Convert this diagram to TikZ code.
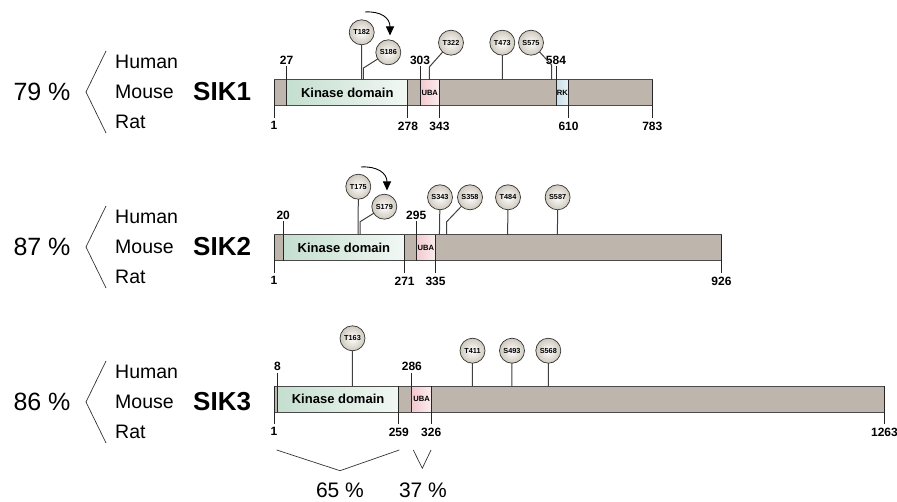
\documentclass[tikz,border=0pt]{standalone}
\usepackage{fontspec}
\setmainfont{Liberation Sans}
\usetikzlibrary{arrows.meta}
\definecolor{barfill}{HTML}{BEB6AC}
\definecolor{barline}{HTML}{4A4A4A}
\definecolor{kinA}{HTML}{C4DECF}
\definecolor{kinB}{HTML}{F2F8F4}
\definecolor{ubaA}{HTML}{F2C9CF}
\definecolor{ubaB}{HTML}{FBECEE}
\definecolor{rkA}{HTML}{C9DEE9}
\definecolor{rkB}{HTML}{EAF2F6}
\definecolor{circout}{HTML}{CFC9BD}
\newcommand{\xr}[1]{274+(#1-1)*0.4837}
\tikzset{
  num/.style={font=\bfseries\fontsize{12bp}{13bp}\selectfont, inner sep=0pt},
  site/.style={circle, draw=black!80, line width=0.7bp, minimum size=25bp, inner sep=0pt,
    inner color=white, outer color=circout, font=\bfseries\fontsize{7.3bp}{8bp}\selectfont},
  stem/.style={draw=black!75, line width=1bp},
  tick/.style={draw=black!85, line width=1bp},
  barbox/.style={draw=barline, line width=1bp},
  dom/.style={font=\bfseries\fontsize{13bp}{14bp}\selectfont, inner sep=0pt},
  smalldom/.style={font=\bfseries\fontsize{7.6bp}{8bp}\selectfont, inner sep=0pt},
  pct/.style={font=\fontsize{25bp}{28bp}\selectfont, inner sep=0pt},
  species/.style={font=\fontsize{19.5bp}{22bp}\selectfont, inner sep=0pt, anchor=west},
  sik/.style={font=\bfseries\fontsize{26bp}{28bp}\selectfont, inner sep=0pt, anchor=west},
  brk/.style={draw=black!80, line width=0.7bp},
  arr/.style={draw=black, line width=0.9bp, -{Triangle[length=9bp,width=8bp]}},
  bpct/.style={font=\fontsize{21bp}{24bp}\selectfont, inner sep=0pt},
}
\begin{document}
\begin{tikzpicture}[x=1bp,y=-1bp]
\useasboundingbox (0,0) rectangle (897,502);

% ---------------- left labels ----------------
\foreach \c/\p/\s/\nm in {92/79/1/a, 247/87/2/b, 402/86/3/c}{
  \node[pct] (pct\nm) at (42,\c) {\p{} \%};
  \draw[brk] (106,\c-41) -- (86,\c) -- (106,\c+41);
  \node[species] (hum\nm) at (115,\c-30) {Human};
  \node[species] (mou\nm) at (115,\c) {Mouse};
  \node[species] (rat\nm) at (115,\c+30) {Rat};
  \node[sik] (sik\nm) at (193,\c) {SIK\s};
}

% ---------------- SIK1 ----------------
\def\T{80}\def\B{106}
\fill[barfill] (274,\T) rectangle ({\xr{783}},\B);
\shade[left color=kinA, right color=kinB] ({\xr{27}},\T) rectangle ({\xr{278}},\B);
\shade[left color=ubaA, right color=ubaB] ({\xr{303}},\T) rectangle ({\xr{343}},\B);
\shade[left color=rkA, right color=rkB] ({\xr{584}},\T) rectangle ({\xr{610}},\B);
\draw[barbox] (274,\T) rectangle ({\xr{783}},\B);
\node[dom] (kd1) at ({(\xr{27}+\xr{278})/2},93) {Kinase domain};
\node[smalldom] (uba1) at ({(\xr{303}+\xr{343})/2},93) {UBA};
\node[smalldom] (rk1) at ({(\xr{584}+\xr{610})/2},93) {RK};
% top ticks
\foreach \r/\n in {27/a, 303/b, 584/c}{
  \draw[tick] ({\xr{\r}},\T-13.5) -- ({\xr{\r}},\B);
  \node[num, anchor=south] (t1\n) at ({\xr{\r}},\T-15.5) {\r};
}
% bottom ticks
\foreach \r/\n in {1/a, 278/b, 343/c, 610/d, 783/e}{
  \draw[tick] ({\xr{\r}},\T) -- ({\xr{\r}},\B+12);
  \node[num, anchor=north] (b1\n) at ({\xr{\r}},\B+15.5) {\r};
}
% sites
\coordinate (k186) at ({\xr{186}},68);
\coordinate (k322) at ({\xr{322}},67);
\coordinate (k575) at ({\xr{575}},65);
\draw[stem] ({\xr{182}},\T) -- (361.7,32.3);
\draw[stem] ({\xr{186}},\T) -- (k186) -- (388.3,52.3);
\draw[stem] ({\xr{322}},\T) -- (k322) -- (451,42.7);
\draw[stem] ({\xr{473}},\T) -- (502.3,42.7);
\draw[stem] ({\xr{575}},\T) -- (k575) -- (531,42.7);
\node[site] (T182) at (361.7,32.3) {T182};
\node[site] (S186) at (388.3,52.3) {S186};
\node[site] (T322) at (451,42.7) {T322};
\node[site] (T473) at (502.3,42.7) {T473};
\node[site] (S575) at (531,42.7) {S575};
\coordinate (a1s) at (365,12);
\coordinate (a1e) at (390,35.5);
\draw[arr] (a1s) .. controls (381,11) and (390,18) .. (a1e);

% ---------------- SIK2 ----------------
\def\T{235}\def\B{261}
\fill[barfill] (274,\T) rectangle ({\xr{926}},\B);
\shade[left color=kinA, right color=kinB] ({\xr{20}},\T) rectangle ({\xr{271}},\B);
\shade[left color=ubaA, right color=ubaB] ({\xr{295}},\T) rectangle ({\xr{335}},\B);
\draw[barbox] (274,\T) rectangle ({\xr{926}},\B);
\node[dom] (kd2) at ({(\xr{20}+\xr{271})/2},248) {Kinase domain};
\node[smalldom] (uba2) at ({(\xr{295}+\xr{335})/2},248) {UBA};
\foreach \r/\n in {20/a, 295/b}{
  \draw[tick] ({\xr{\r}},\T-13.5) -- ({\xr{\r}},\B);
  \node[num, anchor=south] (t2\n) at ({\xr{\r}},\T-15.5) {\r};
}
\foreach \r/\n in {1/a, 271/b, 335/c, 926/d}{
  \draw[tick] ({\xr{\r}},\T) -- ({\xr{\r}},\B+12);
  \node[num, anchor=north] (b2\n) at ({\xr{\r}},\B+15.5) {\r};
}
\coordinate (k179) at ({\xr{179}},221.7);
\coordinate (k358) at ({\xr{358}},221.7);
\draw[stem] ({\xr{175}},\T) -- (358.3,186.7);
\draw[stem] ({\xr{179}},\T) -- (k179) -- (384.3,206.7);
\draw[stem] ({\xr{343}},\T) -- (440,197.3);
\draw[stem] ({\xr{358}},\T) -- (k358) -- (470,197.3);
\draw[stem] ({\xr{484}},\T) -- (508,197.3);
\draw[stem] ({\xr{587}},\T) -- (557.6,197.3);
\node[site] (T175) at (358.3,186.7) {T175};
\node[site] (S179) at (384.3,206.7) {S179};
\node[site] (S343) at (440,197.3) {S343};
\node[site] (S358) at (470,197.3) {S358};
\node[site] (T484) at (508,197.3) {T484};
\node[site] (S587) at (557.6,197.3) {S587};
\coordinate (a2s) at (361,167);
\coordinate (a2e) at (387,190.5);
\draw[arr] (a2s) .. controls (377,166) and (387,173) .. (a2e);

% ---------------- SIK3 ----------------
\def\T{386}\def\B{412}
\fill[barfill] (274,\T) rectangle ({\xr{1263}},\B);
\shade[left color=kinA, right color=kinB] ({\xr{8}},\T) rectangle ({\xr{259}},\B);
\shade[left color=ubaA, right color=ubaB] ({\xr{286}},\T) rectangle ({\xr{326}},\B);
\draw[barbox] (274,\T) rectangle ({\xr{1263}},\B);
\node[dom] (kd3) at ({(\xr{8}+\xr{259})/2},399) {Kinase domain};
\node[smalldom] (uba3) at ({(\xr{286}+\xr{326})/2},399) {UBA};
\foreach \r/\n in {8/a, 286/b}{
  \draw[tick] ({\xr{\r}},\T-13.5) -- ({\xr{\r}},\B);
  \node[num, anchor=south] (t3\n) at ({\xr{\r}},\T-15.5) {\r};
}
\foreach \r/\n in {1/a, 259/b, 326/c, 1263/d}{
  \draw[tick] ({\xr{\r}},\T) -- ({\xr{\r}},\B+12);
  \node[num, anchor=north] (b3\n) at ({\xr{\r}},\B+15.5) {\r};
}
\draw[stem] ({\xr{163}},\T) -- (352.5,338.3);
\draw[stem] ({\xr{411}},\T) -- (472.5,350.7);
\draw[stem] ({\xr{493}},\T) -- (512,350.7);
\draw[stem] ({\xr{568}},\T) -- (548.3,350.7);
\node[site] (T163) at (352.5,338.3) {T163};
\node[site] (T411) at (472.5,350.7) {T411};
\node[site] (S493) at (512,350.7) {S493};
\node[site] (S568) at (548.3,350.7) {S568};

% ---------------- bottom brackets ----------------
\coordinate (p1) at (276.7,450);
\coordinate (p2) at (340,470.7);
\coordinate (p3) at (399.3,450);
\coordinate (q1) at (413.3,450);
\coordinate (q2) at (422.3,468.3);
\coordinate (q3) at (431,450);
\draw[brk] (p1) -- (p2) -- (p3);
\draw[brk] (q1) -- (q2) -- (q3);
\node[bpct] (p65) at (340,490) {65 \%};
\node[bpct] (p37) at (423,490) {37 \%};
\end{tikzpicture}
\end{document}
